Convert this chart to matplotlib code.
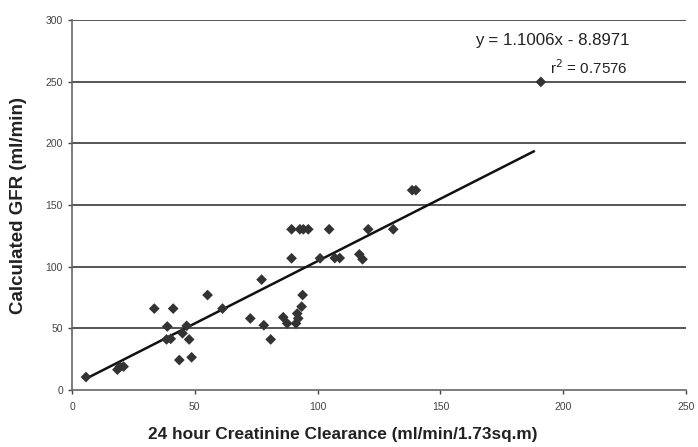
import numpy as np
import matplotlib
matplotlib.use("Agg")
import matplotlib.pyplot as plt

plt.rcParams['font.family'] = ['Liberation Sans', 'DejaVu Sans']

clearance = [5.7, 18.5, 19.5, 21.0, 33.5, 38.8, 38.5, 40.2, 41.2, 43.7, 45.0, 46.7,
             47.7, 48.7, 55.2, 61.3, 72.6, 77.2, 78.1, 80.9, 86.0, 87.6, 89.4, 89.4,
             91.2, 91.7, 92.1, 92.8, 93.5, 93.9, 94.2, 96.2, 101.0, 104.7, 107.0,
             109.0, 117.0, 118.3, 120.6, 130.8, 138.5, 140.0, 190.9]
gfr = [10.5, 16.5, 19.0, 19.0, 66.0, 51.5, 41.0, 41.5, 66.0, 24.3, 46.0, 52.0,
       41.0, 26.5, 77.0, 66.0, 58.0, 89.5, 52.5, 41.0, 59.0, 54.0, 106.8, 130.3,
       54.0, 62.0, 58.0, 130.3, 67.6, 77.0, 130.3, 130.3, 106.8, 130.3, 107.0,
       107.0, 110.0, 106.0, 130.3, 130.3, 162.0, 162.0, 249.8]

# trend line as drawn in the picture (slope, intercept), and its end on the x axis
trend_slope = 1.011
trend_intercept = 3.4
trend_end = 188.0

eq_text = "y = 1.1006x - 8.8971"
r2_text = "r$^2$ = 0.7576"
xticks = [0, 50, 100, 150, 200, 250]
yticks = [0, 50, 100, 150, 200, 250, 300]

W, H = 698, 447
fig = plt.figure(figsize=(W / 100, H / 100), dpi=100)
ax = fig.add_axes([72 / W, (H - 390) / H, (686 - 72) / W, (390 - 20) / H])

x = np.array(clearance)
y = np.array(gfr)
xl = np.array([x.min(), trend_end])
ax.plot(xl, trend_slope * xl + trend_intercept, color='#111111', lw=1.8, zorder=3)

ax.scatter(x, y, marker='D', s=30, color='#333333', edgecolors='none', zorder=4)

ax.set_xlim(0, 250)
ax.set_ylim(0, 300)
ax.set_xticks(xticks)
ax.set_yticks(yticks)
for t in yticks[1:]:
    ax.axhline(t, color='#555555', lw=1.4, zorder=1)

for s in ['right', 'top']:
    ax.spines[s].set_visible(False)
for s in ['left', 'bottom']:
    ax.spines[s].set_color('#666666')
    ax.spines[s].set_linewidth(1.2)

ax.tick_params(axis='both', labelsize=7.5, colors='#444444', length=3, width=1,
               direction='out')
ax.tick_params(axis='x', pad=6)

fig.text(552 / W, (H - 41) / H, eq_text, ha='center', va='center',
         fontsize=12.2, color='#222222')
fig.text(589 / W, (H - 68) / H, r2_text, ha='center', va='center',
         fontsize=11, color='#222222')

fig.text(343 / W, (H - 434) / H, "24 hour Creatinine Clearance (ml/min/1.73sq.m)",
         ha='center', va='center', fontsize=12.4, fontweight='bold', color='#222222')
fig.text(19 / W, (H - 205) / H, "Calculated GFR (ml/min)", rotation=90,
         ha='center', va='center', fontsize=13.5, fontweight='bold', color='#222222')

fig.savefig("out.png", dpi=100)
